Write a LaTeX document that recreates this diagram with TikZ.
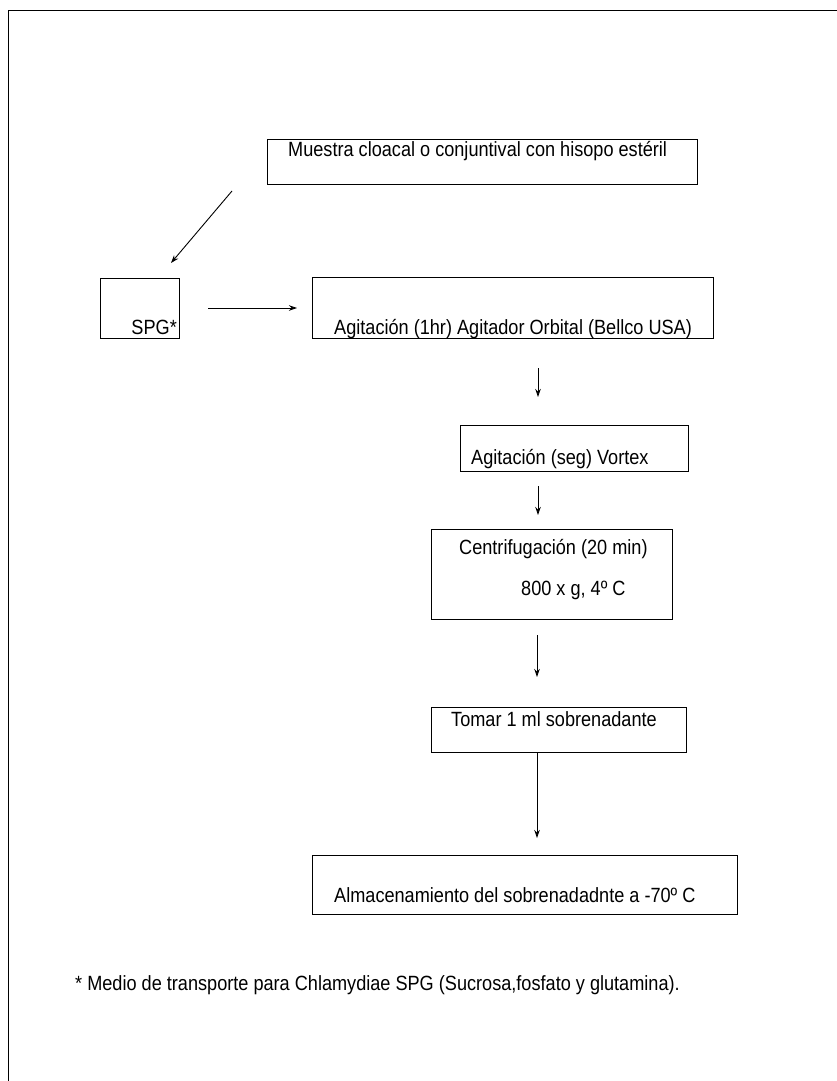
\documentclass[tikz,border=0pt]{standalone}
\usepackage{fontspec}
\setmainfont{Liberation Sans}[FakeStretch=0.88]
\usetikzlibrary{arrows.meta}

\begin{document}
\begin{tikzpicture}[x=1pt,y=-1pt,
        box/.style={draw, line width=1pt, inner sep=0pt},
        txt/.style={inner sep=0pt, font=\fontsize{20.6}{24}\selectfont},
        arr/.style={line width=0.9pt, -{Stealth[length=8pt,width=5.5pt]}}]
            \useasboundingbox (0,0) rectangle (837,1081);
            \draw[line width=1pt] (837,11) -| (8,1081);

            \node[box, minimum width=430pt, minimum height=45pt] (muestra) at (482,161.5) {};
            \node[box, minimum width=79pt, minimum height=60pt] (spg) at (139.5,308) {};
            \node[box, minimum width=401pt, minimum height=61pt] (orbital) at (512.5,307.5) {};
            \node[box, minimum width=228pt, minimum height=46pt] (vortex) at (574,448) {};
            \node[box, minimum width=241pt, minimum height=90pt] (centrif) at (551.5,574) {};
            \node[box, minimum width=255pt, minimum height=45pt] (tomar) at (558.5,729.5) {};
            \node[box, minimum width=425pt, minimum height=59pt] (almacen) at (524.5,884.5) {};

            \node[txt, anchor=base west] (muestratxt) at (288,156) {Muestra cloacal o conjuntival con hisopo estéril};
            \node[txt, anchor=base east] (spgtxt) at (177,334) {SPG*};
            \node[txt, anchor=base west] (orbitaltxt) at (334,334) {Agitación (1hr) Agitador Orbital (Bellco USA)};
            \node[txt, anchor=base west] (vortextxt) at (471,464) {Agitación (seg) Vortex};
            \node[txt, anchor=base west] (centriftxt) at (459,554) {Centrifugación (20 min)};
            \node[txt, anchor=base west] (gtxt) at (521,595) {800 x g, 4º C};
            \node[txt, anchor=base west] (tomartxt) at (451,726) {Tomar 1 ml sobrenadante};
            \node[txt, anchor=base west] (almacentxt) at (334,902) {Almacenamiento del sobrenadadnte a -70º C};
            \node[txt, anchor=base west] (nota) at (75,990) {* Medio de transporte para Chlamydiae SPG (Sucrosa,fosfato y glutamina).};

            \coordinate (m1) at (232,191);
            \coordinate (s1) at (171,263);
            \coordinate (s2) at (208,308);
            \coordinate (o1) at (297,308);
            \coordinate (o2) at (538,368);
            \coordinate (v1) at (538,397);
            \coordinate (v2) at (538,486);
            \coordinate (c1) at (538,515);
            \coordinate (c2) at (537,635);
            \coordinate (t1) at (537,677);
            \coordinate (t2) at (537,752);
            \coordinate (a1) at (537,838);

            \draw[arr] (m1) -- (s1);
            \draw[arr] (s2) -- (o1);
            \draw[arr] (o2) -- (v1);
            \draw[arr] (v2) -- (c1);
            \draw[arr] (c2) -- (t1);
            \draw[arr] (t2) -- (a1);
        \end{tikzpicture}
\end{document}
